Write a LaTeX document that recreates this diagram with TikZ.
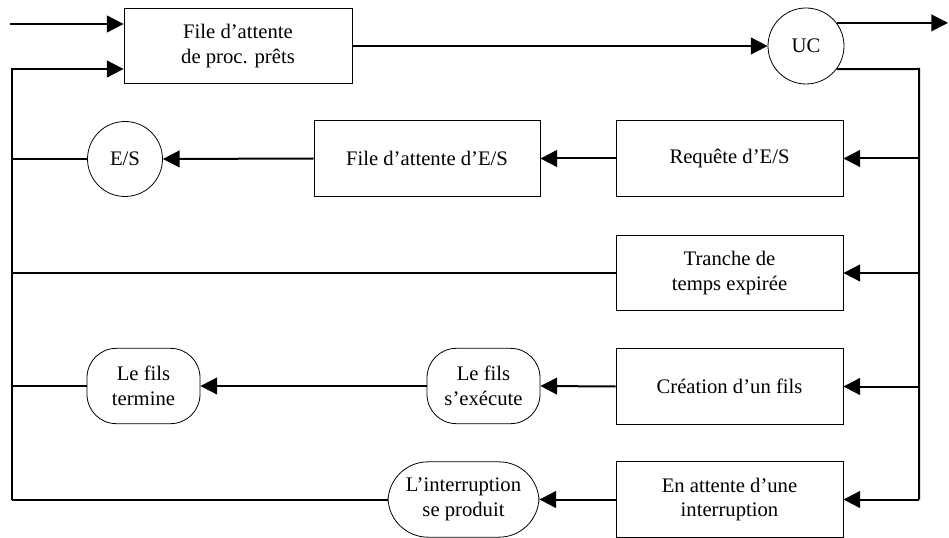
\documentclass[tikz,border=0pt]{standalone}
\usepackage{fontspec}
\setmainfont{Liberation Serif}
\usetikzlibrary{arrows.meta}
\begin{document}
\begin{tikzpicture}[x=0.75pt,y=-0.75pt,
  every node/.style={font=\fontsize{15.5}{18.5}\selectfont, align=center, inner sep=0pt},
  box/.style={draw, line width=0.6pt, minimum width=#1*0.75pt, minimum height=56.5pt},
  box/.default=227,
  pill/.style={draw, line width=0.6pt, rounded corners=22pt, minimum width=#1*0.75pt, minimum height=56.5pt},
  disk/.style={draw, circle, line width=0.6pt, minimum size=#1*0.75pt},
  wire/.style={line width=1.5pt},
  flow/.style={wire, -{Triangle[length=12.5pt,width=12.5pt]}}]
\useasboundingbox (0,0) rectangle (949,538);

% nodes
\node[box=228] (ready) at (238,46) {File d’attente\\de proc. prêts};
\node[disk=76] (uc) at (806,46) {UC};
\node[box] (req) at (729.5,158.5) {Requête d’E/S};
\node[box=226] (ioq) at (427,158.5) {File d’attente d’E/S};
\node[disk=75] (es) at (125,159) {E/S};
\node[box] (tranche) at (729.5,273) {Tranche de\\temps expirée};
\node[box] (creat) at (729.5,386.5) {Création d’un fils};
\node[box] (wait) at (729.5,499.5) {En attente d’une\\interruption};
\node[pill=113] (exec) at (483.5,386) {Le fils\\s’exécute};
\node[pill=113] (term) at (143.5,386) {Le fils\\termine};
\node[pill=151, rounded corners=30pt] (intr) at (463.5,499.5) {L’interruption\\se produit};

% bus corners
\coordinate (in) at (10,24);
\coordinate (out) at (948,23);
\coordinate (rtop) at (919,69);
\coordinate (rbot) at (919,499.5);
\coordinate (ltop) at (12,69);
\coordinate (lbot) at (12,499.5);

% connectors
\draw[flow] (in) -- (in -| ready.west);
\draw[flow] (ready.east) -- (uc.west);
\draw[flow] (uc.37) -- (uc.37 -| out);
\draw[wire] (uc.-37) -- (rtop) -- (rbot);
\draw[flow] (req.east -| rtop) -- (req.east);
\draw[flow] (tranche.east -| rtop) -- (tranche.east);
\draw[flow] (creat.east -| rtop) -- (creat.east);
\draw[flow] (rbot) -- (wait.east);
\draw[flow] (req.west) -- (ioq.east);
\draw[flow] (ioq.west) -- (es.east);
\draw[flow] (creat.west) -- (exec.east);
\draw[flow] (exec.west) -- (term.east);
\draw[flow] (wait.west) -- (intr.east);
\draw[wire] (es.west) -- (es.west -| ltop);
\draw[wire] (tranche.west) -- (tranche.west -| ltop);
\draw[wire] (term.west) -- (term.west -| ltop);
\draw[wire] (intr.west) -- (lbot);
\draw[flow] (lbot) -- (ltop) -- (ltop -| ready.west);
\end{tikzpicture}
\end{document}
